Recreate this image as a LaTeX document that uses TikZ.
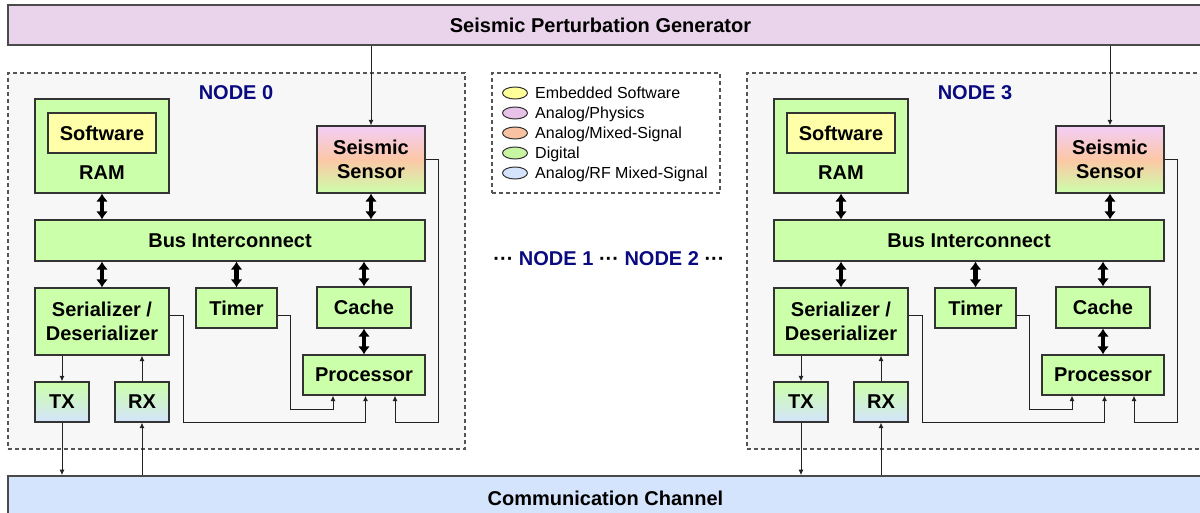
\documentclass[tikz,border=0pt]{standalone}
\usepackage{fontspec}
\setmainfont{Liberation Sans}
\usetikzlibrary{arrows.meta,calc,shapes.geometric}
\definecolor{dig}{HTML}{CCFFAA}
\definecolor{swc}{HTML}{FFFFAA}
\definecolor{senstop}{HTML}{F3CEF7}
\definecolor{sensmid}{HTML}{FCC7A6}
\definecolor{rfc}{HTML}{D4E4FC}
\definecolor{genc}{HTML}{EAD4EC}
\definecolor{edgec}{HTML}{333333}
\definecolor{boxc}{HTML}{555555}
\definecolor{bgc}{HTML}{F7F7F7}
\definecolor{navyc}{HTML}{0A0A80}
\definecolor{sigc}{HTML}{222222}
\definecolor{barc}{HTML}{4A4A4A}
\definecolor{legy}{HTML}{FFFF99}
\definecolor{legp}{HTML}{E6C2E8}
\definecolor{lego}{HTML}{F8C2A2}
\definecolor{legg}{HTML}{C8F5A2}
\definecolor{legb}{HTML}{D4E4FC}
\tikzset{
 txt/.style={font=\fontsize{20}{24}\selectfont\bfseries, align=center, text depth=0pt, inner sep=0pt},
 blk/.style={draw=edgec, line width=1.2pt, fill=dig, inner sep=0pt, txt},
 nodebox/.style={draw=boxc, dash pattern=on 4pt off 3pt, line width=1.1pt, fill=bgc, inner sep=0pt},
 nodetitle/.style={txt, text=navyc},
 bar/.style={draw=barc, line width=1.6pt, inner sep=0pt},
 dbl/.style={line width=4.5pt, {Latex[length=8pt,width=12pt]}-{Latex[length=8pt,width=12pt]}},
 sig/.style={line width=1pt, draw=sigc, -{Latex[length=5.5pt,width=5pt]}},
 legtxt/.style={font=\fontsize{16}{19}\selectfont, anchor=west, inner sep=0pt, text depth=0pt},
 legdot/.style={ellipse, draw=edgec, line width=1pt, minimum width=25pt, minimum height=12pt, inner sep=0pt},
}
\newcommand\socnode[3]{%
\begin{scope}[xshift=#2]
\node[nodebox, minimum width=457pt, minimum height=376pt] (#1-box) at (236.5,261) {};
\node[nodetitle] (#1-title) at (236,93) {#3};
\node[blk, minimum width=134pt, minimum height=94pt] (#1-ram) at (102,146) {};
\node[blk, fill=swc, minimum width=108pt, minimum height=40pt] (#1-sw) at (102,133) {Software};
\node[txt] (#1-ramlbl) at (102,173) {RAM};
\node[blk, top color=senstop, bottom color=dig, middle color=sensmid, minimum width=108pt, minimum height=67pt] (#1-sensor) at (371,159.5) {Seismic\\Sensor};
\node[blk, minimum width=390pt, minimum height=41pt] (#1-bus) at (230,240.5) {Bus Interconnect};
\node[blk, minimum width=134pt, minimum height=67pt] (#1-serdes) at (102,321.5) {Serializer /\\Deserializer};
\node[blk, minimum width=81pt, minimum height=40pt] (#1-timer) at (236.5,308) {Timer};
\node[blk, minimum width=94pt, minimum height=41pt] (#1-cache) at (364,307.5) {Cache};
\node[blk, minimum width=122pt, minimum height=40pt] (#1-proc) at (364,375) {Processor};
\node[blk, top color=dig, bottom color=rfc, minimum width=54pt, minimum height=40pt] (#1-tx) at (62,402) {TX};
\node[blk, top color=dig, bottom color=rfc, minimum width=54pt, minimum height=40pt] (#1-rx) at (142,402) {RX};
\coordinate (#1-lvl) at (0,315);
\draw[sig] (gen.south -| #1-sensor.north) -- (#1-sensor.north);
\draw[dbl] (#1-ram.south) -- (#1-ram.south |- #1-bus.north);
\draw[dbl] (#1-sensor.south) -- (#1-sensor.south |- #1-bus.north);
\draw[dbl] (#1-serdes.north |- #1-bus.south) -- (#1-serdes.north);
\draw[dbl] (#1-timer.north |- #1-bus.south) -- (#1-timer.north);
\draw[dbl] (#1-cache.north |- #1-bus.south) -- (#1-cache.north);
\draw[dbl] (#1-cache.south) -- (#1-cache.south |- #1-proc.north);
\draw[sig] (#1-tx.north |- #1-serdes.south) -- (#1-tx.north);
\draw[sig] (#1-rx.north) -- (#1-rx.north |- #1-serdes.south);
\draw[sig] (#1-tx.south) -- (#1-tx.south |- comm.north);
\draw[sig] (#1-rx.south |- comm.north) -- (#1-rx.south);
\draw[sig] (#1-serdes.east |- #1-lvl) -| (183,422) -| ([xshift=1.5pt]#1-proc.south);
\draw[sig] (#1-timer.east |- #1-lvl) -| (290,409) -| ([xshift=-31pt]#1-proc.south);
\draw[sig] (#1-sensor.east) -| (438,422) -| ([xshift=31pt]#1-proc.south);
\end{scope}}
\begin{document}
\begin{tikzpicture}[x=1pt,y=-1pt]
\useasboundingbox (0,0) rectangle (1200,513);
\node[bar, fill=genc, minimum width=1207pt, minimum height=40pt] (gen) at (611.5,25) {};
\node[txt] (genlbl) at (600.5,25) {Seismic Perturbation Generator};
\node[bar, fill=rfc, minimum width=1207pt, minimum height=64pt] (comm) at (611.5,508) {};
\node[txt] (commlbl) at (605.5,498) {Communication Channel};
\socnode{n0}{0pt}{NODE 0}
\socnode{n3}{739pt}{NODE 3}
\node[nodebox, fill=white, minimum width=228pt, minimum height=120pt] (legend) at (606,133) {};
\node[legdot, fill=legy] (l1) at (515,93) {};
\node[legtxt] (t1) at (535,93) {Embedded Software};
\node[legdot, fill=legp] (l2) at (515,113) {};
\node[legtxt] (t2) at (535,113) {Analog/Physics};
\node[legdot, fill=lego] (l3) at (515,133) {};
\node[legtxt] (t3) at (535,133) {Analog/Mixed-Signal};
\node[legdot, fill=legg] (l4) at (515,153) {};
\node[legtxt] (t4) at (535,153) {Digital};
\node[legdot, fill=legb] (l5) at (515,173) {};
\node[legtxt] (t5) at (535,173) {Analog/RF Mixed-Signal};
\node[txt] (others) at (609,259) {··· \textcolor{navyc}{NODE 1} ··· \textcolor{navyc}{NODE 2} ···};
\end{tikzpicture}
\end{document}
